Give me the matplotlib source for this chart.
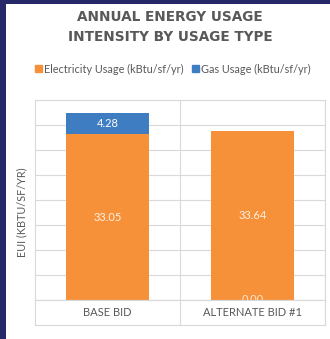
import matplotlib
matplotlib.use("Agg")
import matplotlib.pyplot as plt
from matplotlib.patches import Rectangle

categories = ["BASE BID", "ALTERNATE BID #1"]
electricity = [33.05, 33.64]
gas = [4.28, 0.00]
series_names = ["Electricity Usage (kBtu/sf/yr)", "Gas Usage (kBtu/sf/yr)"]
y_ticks = [0, 5, 10, 15, 20, 25, 30, 35, 40]

ORANGE = "#F6913A"
BLUE = "#3F7DC3"
NAVY = "#262868"
GRID = "#D9D9D9"
TXT = "#595959"
FONT = "Lato"

W, H = 330, 339
fig = plt.figure(figsize=(W / 100, H / 100), dpi=100)
fig.patch.set_facecolor("white")

def fx(px):
    return px / W

def fy(py):
    return 1 - py / H

# navy frame strips
fig.patches.append(Rectangle((0, 0), fx(6), 1, transform=fig.transFigure,
                             facecolor=NAVY, edgecolor="none", zorder=0))
fig.patches.append(Rectangle((0, fy(4)), 1, 1 - fy(4), transform=fig.transFigure,
                             facecolor=NAVY, edgecolor="none", zorder=0))

left, right, top, bottom, row_bottom = 35, 325, 99.5, 300, 324.5
ax = fig.add_axes([fx(left), fy(bottom), fx(right - left), fy(top) - fy(bottom)])
ax.set_xlim(-0.5, 1.5)
ax.set_ylim(0, 40)
ax.set_yticks(y_ticks)
ax.set_xticks([])
ax.tick_params(axis="y", length=0, labelleft=False)
ax.yaxis.grid(True, color=GRID, linewidth=0.8)
ax.set_axisbelow(True)
for s in ax.spines.values():
    s.set_color(GRID)
    s.set_linewidth(0.8)
ax.axvline(0.5, color=GRID, linewidth=0.8, zorder=0)

x = list(range(len(categories)))
bw = 0.566
ax.bar(x, electricity, width=bw, color=ORANGE, zorder=2)
ax.bar(x, gas, width=bw, bottom=electricity, color=BLUE, zorder=2)

for i, v in enumerate(electricity):
    ax.text(i, v / 2, f"{v:.2f}", ha="center", va="center", color="#FFF1E3",
            fontsize=8, family=FONT, zorder=3)
for i, v in enumerate(gas):
    if v > 0:
        ax.text(i, electricity[i] + v / 2, f"{v:.2f}", ha="center", va="center",
                color="white", fontsize=8, family=FONT, zorder=3)
    else:
        ax.text(i, 0.1, f"{v:.2f}", ha="center", va="center", color="#FFE4CC",
                fontsize=8, family=FONT, zorder=3, clip_on=True)

# category label row
ax2 = fig.add_axes([fx(left), fy(row_bottom), fx(right - left), fy(bottom) - fy(row_bottom)])
ax2.set_xlim(-0.5, 1.5)
ax2.set_ylim(0, 1)
ax2.set_xticks([])
ax2.set_yticks([])
for s in ax2.spines.values():
    s.set_color(GRID)
    s.set_linewidth(0.8)
ax2.axvline(0.5, color=GRID, linewidth=0.8)
for i, c in enumerate(categories):
    ax2.text(i, 0.5, c, ha="center", va="center", color=TXT, fontsize=8,
             family=FONT)

# y label
fig.text(fx(22), fy(212), "EUI (KBTU/SF/YR)", rotation=90, ha="center", va="center",
         color=TXT, fontsize=7.8, family=FONT)

# title
fig.text(fx(170), fy(17), "ANNUAL ENERGY USAGE", ha="center", va="center",
         color=TXT, fontsize=9.8, fontweight="bold", family="DejaVu Sans")
fig.text(fx(170), fy(37), "INTENSITY BY USAGE TYPE", ha="center", va="center",
         color=TXT, fontsize=9.8, fontweight="bold", family="DejaVu Sans")

# legend
handles = [Rectangle((0, 0), 1, 1, color=ORANGE), Rectangle((0, 0), 1, 1, color=BLUE)]
leg = fig.legend(handles, series_names, loc="center", bbox_to_anchor=(fx(173), fy(69)),
                 ncol=2, frameon=False, handlelength=0.6, handleheight=0.6,
                 handletextpad=0.2, columnspacing=0.8,
                 prop={"family": FONT, "size": 7.8})
for t in leg.get_texts():
    t.set_color(TXT)

fig.savefig("out.png", dpi=100, facecolor="white")
